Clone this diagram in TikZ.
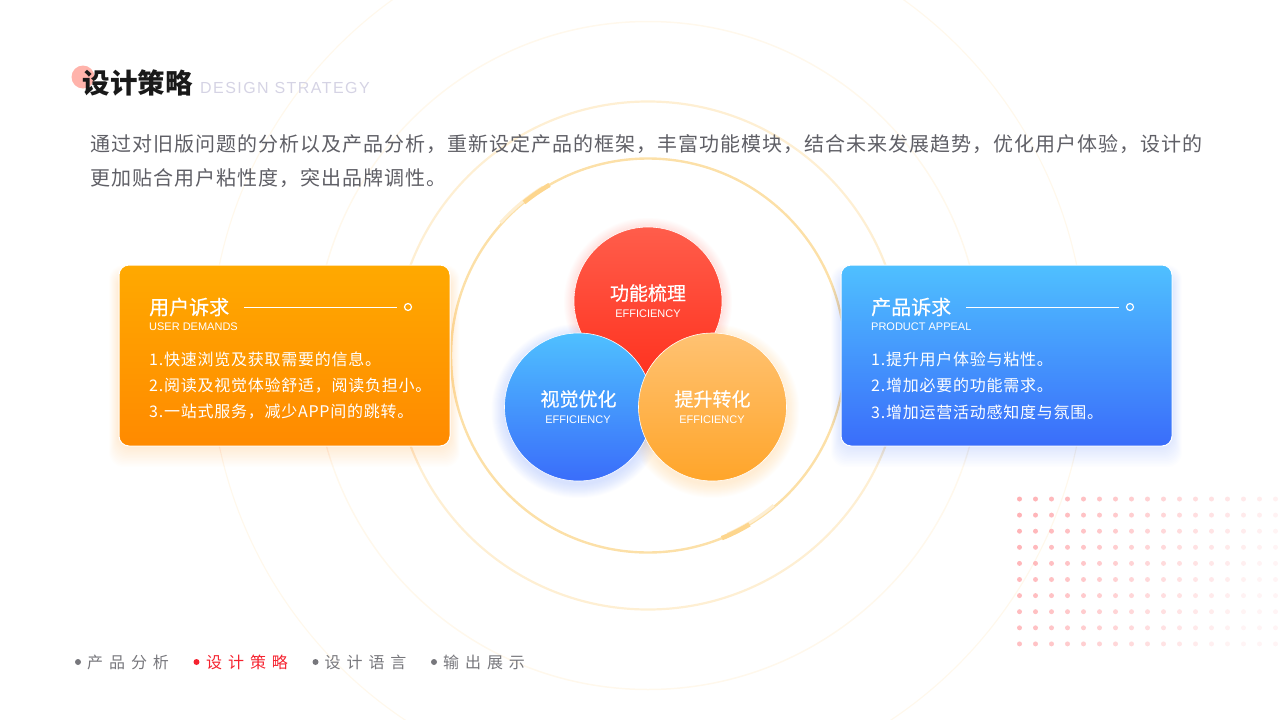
\documentclass[tikz,border=0pt]{standalone}
\usepackage{fontspec}
\setmainfont{Liberation Sans}
\newfontfamily\cjkfont{Noto Sans CJK SC}
\newfontfamily\cjkmed[FakeBold=0.5]{Noto Sans CJK SC}
\newfontfamily\cjktext[LetterSpace=5]{Noto Sans CJK SC}
\newfontfamily\cjkcard[LetterSpace=4.7]{Noto Sans CJK SC}
\newfontfamily\cjknav[LetterSpace=37]{Noto Sans CJK SC}
\newfontfamily\latinwide[LetterSpace=9]{Liberation Sans}
\definecolor{ringgold}{HTML}{FCE0A8}
\definecolor{ringdeep}{HTML}{FDD68E}
\definecolor{ringpale}{HTML}{FEEFD3}
\definecolor{ringfaint}{HTML}{FFF8EC}
\definecolor{bodygrey}{HTML}{5F5F66}
\definecolor{navgrey}{HTML}{77777C}
\definecolor{navred}{HTML}{F5222F}
\definecolor{titlepink}{HTML}{FFB3AB}
\definecolor{titlegrey}{HTML}{D5D3E4}
\definecolor{dotpink}{HTML}{FFA8AC}
\definecolor{ambertop}{HTML}{FFA900}
\definecolor{amberbot}{HTML}{FF8A00}
\definecolor{skytop}{HTML}{4FC0FF}
\definecolor{skybot}{HTML}{3A6DFA}
\definecolor{redtop}{HTML}{FF5D4B}
\definecolor{redbot}{HTML}{FF3320}
\definecolor{peachtop}{HTML}{FFC272}
\definecolor{peachbot}{HTML}{FFA52A}
\tikzset{
    cardbox/.style={draw=white, line width=1pt, rounded corners=10pt},
    cardglow/.style={opacity=0.01, rounded corners=14pt},
    cardtitle/.style={anchor=west, inner sep=0pt, text=white, font=\cjkmed\fontsize{20}{24}\selectfont},
    cardsub/.style={anchor=west, inner sep=0pt, text=white, font=\fontsize{11}{13}\selectfont},
    cardline/.style={anchor=west, inner sep=0pt, text=white, font=\cjkcard\fontsize{16}{20}\selectfont},
    carddot/.style={circle, draw=white, line width=1.2pt, inner sep=0pt, minimum size=7pt},
    ball/.style={circle, draw=white, line width=0.6pt, inner sep=0pt, minimum size=148pt},
    ballname/.style={inner sep=0pt, text=white, font=\cjkmed\fontsize{19}{23}\selectfont},
    ballsub/.style={inner sep=0pt, text=white, font=\fontsize{11}{13}\selectfont},
    navdot/.style={circle, fill=navgrey, inner sep=0pt, minimum size=6pt},
    navtext/.style={anchor=west, inner sep=0pt, text=navgrey, font=\cjknav\fontsize{16}{20}\selectfont},
    bodytext/.style={anchor=west, inner sep=0pt, text=bodygrey, font=\cjktext\fontsize{20}{24}\selectfont}
}

\begin{document}
\begin{tikzpicture}[x=1pt, y=-1pt]

        \useasboundingbox (0,0) rectangle (1280,720);
        \clip (0,0) rectangle (1280,720);

        \coordinate (rings) at (648,355.5);

        % Rings behind everything
        \path[draw, ringfaint, line width=1.2pt] (rings) circle (438);
        \path[draw, ringfaint, line width=1.5pt] (rings) circle (334);
        \path[draw, ringpale, line width=2.2pt] (rings) circle (254);
        \path[draw, ringgold, line width=2.4pt] (rings) circle (197);

        % Thick bits on the inner ring (y is flipped, so angles are negated)
        \path[draw, ringpale, line width=3pt] (rings) ++(-122:198.5) arc (-122:-138:198.5);
        \path[draw, ringdeep, line width=4.5pt] (rings) ++(-120:197) arc (-120:-129:197);
        \path[draw, ringpale, line width=3pt] (rings) ++(66:195.5) arc (66:50:195.5);
        \path[draw, ringdeep, line width=4.5pt] (rings) ++(68:197) arc (68:59:197);

        % Dots
        \foreach \i in {0,...,16} {
            \foreach \j in {0,...,9} {
                \pgfmathsetmacro{\dotfade}{max(0.12, 0.9 - 0.046*\i - 0.018*\j)}
                \path[fill=dotpink, opacity=\dotfade] (1019.5+16*\i, 499+16.1*\j) circle (2.5);
            }
        }

        % Soft glows
        \foreach \k in {1,...,14} {
            \path[fill=amberbot, cardglow] (119-0.7*\k,275-0.7*\k) rectangle (450+0.7*\k,446+1.5*\k);
            \path[fill=skybot, cardglow] (841-0.7*\k,275-0.7*\k) rectangle (1172+0.7*\k,446+1.5*\k);
            \path[fill=redbot, opacity=0.01] (648,302) circle (73+0.8*\k);
            \path[fill=skybot, opacity=0.014] (578.5,411) circle (73+\k);
            \path[fill=peachbot, opacity=0.014] (712.5,411) circle (73+\k);
        }

        % Title
        \path[fill=titlepink] (83,77) circle (11.5);
        \node[anchor=west, inner sep=0pt, font=\cjkfont\bfseries\fontsize{27.5}{32}\selectfont, text=black!90] (heading) at (82.5,83) {设计策略};
        \node[anchor=west, inner sep=0pt, font=\latinwide\fontsize{16}{20}\selectfont, text=titlegrey] (headingen) at (200,88) {DESIGN STRATEGY};

        \node[bodytext] (bodyone) at (90,144) {通过对旧版问题的分析以及产品分析，重新设定产品的框架，丰富功能模块，结合未来发展趋势，优化用户体验，设计的};
        \node[bodytext] (bodytwo) at (90,178) {更加贴合用户粘性度，突出品牌调性。};

        % Left card
        \path[cardbox, top color=ambertop, bottom color=amberbot] (119,265) rectangle (450,446);
        \node[cardtitle] (usertitle) at (149,307) {用户诉求};
        \node[cardsub] (usersub) at (149,327) {USER DEMANDS};
        \coordinate (userstart) at (244,307);
        \node[carddot] (userdot) at (408,307) {};
        \coordinate (userend) at (397,307);
        \path[draw, white, line width=0.8pt] (userstart) -- (userend);
        \node[cardline] (userone) at (149,359) {1.快速浏览及获取需要的信息。};
        \node[cardline] (usertwo) at (149,385.5) {2.阅读及视觉体验舒适，阅读负担小。};
        \node[cardline] (userthree) at (149,412) {3.一站式服务，减少APP间的跳转。};

        % Right card
        \path[cardbox, top color=skytop, bottom color=skybot] (841,265) rectangle (1172,446);
        \node[cardtitle] (prodtitle) at (871,307) {产品诉求};
        \node[cardsub] (prodsub) at (871,327) {PRODUCT APPEAL};
        \coordinate (prodstart) at (966,307);
        \node[carddot] (proddot) at (1130,307) {};
        \coordinate (prodend) at (1119,307);
        \path[draw, white, line width=0.8pt] (prodstart) -- (prodend);
        \node[cardline] (prodone) at (871,359) {1.提升用户体验与粘性。};
        \node[cardline] (prodtwo) at (871,385.5) {2.增加必要的功能需求。};
        \node[cardline] (prodthree) at (871,412) {3.增加运营活动感知度与氛围。};

        % Balls
        \node[ball, top color=redtop, bottom color=redbot] (redball) at (648,301) {};
        \node[ball, top color=skytop, bottom color=skybot] (blueball) at (578.5,407) {};
        \node[ball, top color=peachtop, bottom color=peachbot] (peachball) at (712.5,407) {};

        \node[ballname] (redname) at (648,293) {功能梳理};
        \node[ballsub] (redsub) at (648,313.5) {EFFICIENCY};
        \node[ballname] (bluename) at (578.5,399) {视觉优化};
        \node[ballsub] (bluesub) at (578,419.5) {EFFICIENCY};
        \node[ballname] (peachname) at (712.5,399) {提升转化};
        \node[ballsub] (peachsub) at (712,419.5) {EFFICIENCY};

        % Bottom menu
        \node[navdot] (navdota) at (78,662) {};
        \node[navtext] (navtexta) at (87,662) {产品分析};
        \node[navdot, fill=navred] (navdotb) at (196.5,662) {};
        \node[navtext, text=navred] (navtextb) at (206,662) {设计策略};
        \node[navdot] (navdotc) at (315.5,662) {};
        \node[navtext] (navtextc) at (324.5,662) {设计语言};
        \node[navdot] (navdotd) at (434,662) {};
        \node[navtext] (navtextd) at (443,662) {输出展示};

\end{tikzpicture}
\end{document}
